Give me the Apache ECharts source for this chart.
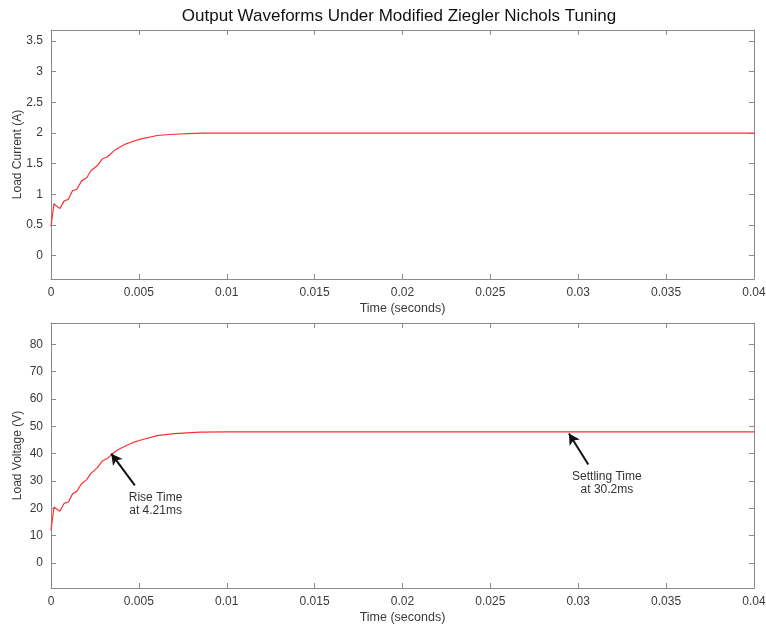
<!DOCTYPE html>
<html>
<head>
<meta charset="utf-8">
<script src="https://cdn.jsdelivr.net/npm/echarts@6/dist/echarts.min.js"></script>
<style>
  html, body { margin: 0; padding: 0; background: #fff; }
  #chart { width: 766px; height: 625px; }
</style>
</head>
<body>
<div id="chart"></div>
<script>
// sample times (s) and waveforms
var time = [0, 0.00017, 0.0003, 0.00051, 0.00074, 0.00099, 0.00122, 0.00146, 0.00174, 0.00203,
  0.00226, 0.00264, 0.00292, 0.0032, 0.00358, 0.00386, 0.00424, 0.00472, 0.00508, 0.00604,
  0.007, 0.0085, 0.01, 0.02, 0.03, 0.04]
var current = [0.48, 0.85, 0.81, 0.77, 0.89, 0.92, 1.06, 1.08, 1.22, 1.27,
  1.38, 1.47, 1.58, 1.61, 1.71, 1.76, 1.82, 1.87, 1.9, 1.96,
  1.98, 2.0, 2.0, 2.0, 2.0, 2.0]
var voltage = [12, 20.5, 19.8, 18.9, 21.8, 22.3, 25.2, 26.2, 29.0, 30.5,
  32.7, 34.9, 37.3, 38.2, 40.4, 41.6, 42.8, 44.2, 44.9, 46.6,
  47.3, 47.9, 48.0, 48.0, 48.0, 48.0]
var currentTicks = [0, 0.5, 1, 1.5, 2, 2.5, 3, 3.5]
var voltageTicks = [0, 10, 20, 30, 40, 50, 60, 70, 80]
// annotations: [tail, head] and text anchor
var riseArrow = [[0.00477, 28.4], [0.00343, 40.0]]
var riseText = [0.00595, 21.6]
var settleArrow = [[0.03057, 36.0], [0.02947, 47.4]]
var settleText = [0.03163, 29.3]

var axisColor = '#8a8a8a'
var textColor = '#3a3a3a'
var font = 'Liberation Sans, Arial, sans-serif'

function xAxisFor(grid, main) {
  return {
    type: 'value', gridIndex: grid, min: 0, max: 0.04, interval: 0.005,
    position: main ? 'bottom' : 'top',
    name: main ? 'Time (seconds)' : '', nameLocation: 'middle', nameGap: 23,
    nameTextStyle: { color: textColor, fontSize: 12.5, fontFamily: font },
    axisLine: { show: true, onZero: false, lineStyle: { color: axisColor } },
    axisTick: { show: true, inside: true, length: 5, lineStyle: { color: axisColor } },
    axisLabel: {
      show: main, color: textColor, fontSize: 12, fontFamily: font, margin: 8,
      formatter: function (v) { return String(+v.toFixed(3)) }
    },
    splitLine: { show: false }
  }
}

function yAxisFor(grid, main, min, max, ticks, name) {
  return {
    type: 'value', gridIndex: grid, min: min, max: max,
    position: main ? 'left' : 'right',
    name: main ? name : '', nameLocation: 'middle', nameGap: 27, nameMoveOverlap: false,
    nameTextStyle: { color: textColor, fontSize: 12, fontFamily: font },
    axisLine: { show: true, onZero: false, lineStyle: { color: axisColor } },
    axisTick: { show: true, inside: true, length: 5, customValues: ticks, lineStyle: { color: axisColor } },
    axisLabel: { show: main, customValues: ticks, color: textColor, fontSize: 12, fontFamily: font, margin: 8 },
    splitLine: { show: false }
  }
}

function pairs(ys) {
  return time.map(function (t, i) { return [t, ys[i]] })
}

var chart = echarts.init(document.getElementById('chart'))

chart.setOption({
  animation: false,
  backgroundColor: '#fff',
  title: {
    text: 'Output Waveforms Under Modified Ziegler Nichols Tuning',
    left: 394, top: 3, textAlign: 'center',
    textStyle: { color: '#111', fontSize: 17, fontWeight: 'normal', fontFamily: font }
  },
  grid: [
    { left: 51, right: 12, top: 30, height: 249, outerBoundsMode: 'none' },
    { left: 51, right: 12, top: 323, height: 265, outerBoundsMode: 'none' }
  ],
  xAxis: [xAxisFor(0, true), xAxisFor(0, false), xAxisFor(1, true), xAxisFor(1, false)],
  yAxis: [
    yAxisFor(0, true, -0.38, 3.68, currentTicks, 'Load Current (A)'),
    yAxisFor(0, false, -0.38, 3.68, currentTicks, ''),
    yAxisFor(1, true, -9.15, 87.8, voltageTicks, 'Load Voltage (V)'),
    yAxisFor(1, false, -9.15, 87.8, voltageTicks, '')
  ],
  series: [
    {
      name: 'Load Current', type: 'line', xAxisIndex: 0, yAxisIndex: 0,
      data: pairs(current), showSymbol: false, symbol: 'none',
      lineStyle: { color: '#ff3030', width: 1.2 }
    },
    {
      name: 'Load Voltage', type: 'line', xAxisIndex: 2, yAxisIndex: 2,
      data: pairs(voltage), showSymbol: false, symbol: 'none',
      lineStyle: { color: '#ff3030', width: 1.2 },
      markLine: {
        silent: true, symbol: ['none', 'arrow'], symbolSize: [9, 11],
        lineStyle: { color: '#111', width: 2, type: 'solid' },
        label: { show: false },
        data: [
          [{ coord: riseArrow[0] }, { coord: riseArrow[1] }],
          [{ coord: settleArrow[0] }, { coord: settleArrow[1] }]
        ]
      },
      markPoint: {
        silent: true, symbol: 'circle', symbolSize: 0,
        label: {
          show: true, position: 'inside', formatter: '{b}', color: '#333',
          fontSize: 12, lineHeight: 13, fontFamily: font, align: 'center'
        },
        data: [
          { name: 'Rise Time\nat 4.21ms', coord: riseText },
          { name: 'Settling Time\nat 30.2ms', coord: settleText }
        ]
      }
    }
  ]
})
</script>
</body>
</html>
